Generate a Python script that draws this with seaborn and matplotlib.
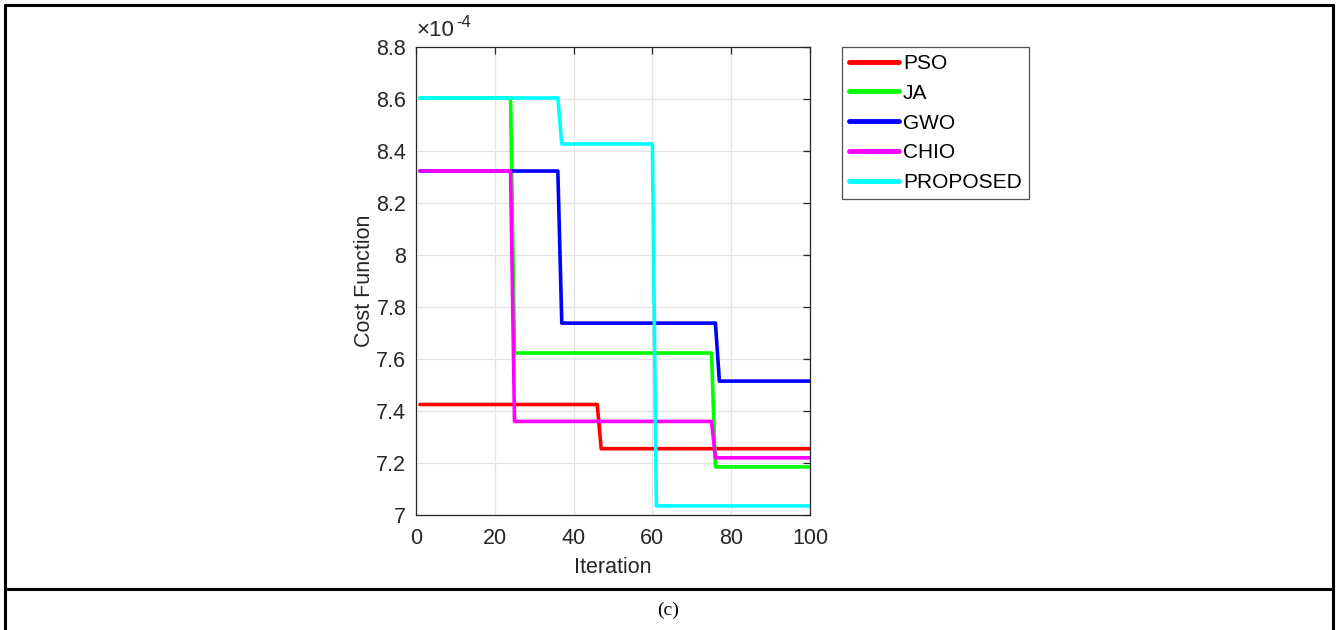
import numpy as np
import pandas as pd
import matplotlib
matplotlib.use("Agg")
import matplotlib.pyplot as plt
from matplotlib.lines import Line2D
import seaborn as sns

# Convergence curves (cost in units of 1e-4): each level holds up to and including its end iteration
iterations = np.arange(1, 101)
algorithms = ["PSO", "JA", "GWO", "CHIO", "PROPOSED"]
pso_levels, pso_ends = [7.425, 7.255], [46, 100]
ja_levels, ja_ends = [8.604, 7.623, 7.185], [24, 75, 100]
gwo_levels, gwo_ends = [8.323, 7.738, 7.515], [36, 76, 100]
chio_levels, chio_ends = [8.323, 7.36, 7.22], [24, 75, 100]
proposed_levels, proposed_ends = [8.604, 8.427, 7.035], [36, 60, 100]
colors = ["#FF0000", "#00FF00", "#0000FF", "#FF00FF", "#00FFFF"]
x_ticks = [0, 20, 40, 60, 80, 100]
y_ticks = [7.0, 7.2, 7.4, 7.6, 7.8, 8.0, 8.2, 8.4, 8.6, 8.8]


def expand(levels, ends):
    counts = np.diff([0] + ends)
    return np.repeat(levels, counts)


series = {
    "PSO": expand(pso_levels, pso_ends),
    "JA": expand(ja_levels, ja_ends),
    "GWO": expand(gwo_levels, gwo_ends),
    "CHIO": expand(chio_levels, chio_ends),
    "PROPOSED": expand(proposed_levels, proposed_ends),
}
df = pd.concat(
    [pd.DataFrame({"Iteration": iterations, "Cost": v, "Algorithm": k}) for k, v in series.items()],
    ignore_index=True,
)

sns.set_style("white")
plt.rcParams["font.family"] = ["Liberation Sans", "DejaVu Sans"]

dark = "#262626"
fig = plt.figure(figsize=(13.36, 6.30), dpi=100)
W, H = 1336, 630
ax = fig.add_axes([416 / W, 1 - 515 / H, (810 - 416) / W, (515 - 47) / H])

sns.lineplot(
    data=df, x="Iteration", y="Cost", hue="Algorithm", hue_order=algorithms,
    palette=colors, linewidth=2.6, ax=ax, legend=True,
)

ax.set_xlim(0, 100)
ax.set_ylim(7.0, 8.8)
ax.set_xticks(x_ticks)
ax.set_yticks(y_ticks)
ax.set_yticklabels([f"{t:g}" for t in y_ticks])
ax.grid(True, color="#E3E3E3", linewidth=0.9)
ax.set_axisbelow(True)
for s in ax.spines.values():
    s.set_color(dark)
    s.set_linewidth(0.9)
    s.set_visible(True)
ax.tick_params(direction="in", length=5, width=0.9, colors=dark, labelsize=15.5,
               top=True, right=True, labeltop=False, labelright=False)
ax.tick_params(axis="x", pad=9)
ax.tick_params(axis="y", pad=7)
ax.set_xlabel("Iteration", fontsize=15.5, color=dark, labelpad=6)
ax.set_ylabel("Cost Function", fontsize=15.5, color=dark, labelpad=1)

# Exponent multiplier above the y axis
ax.text(0.0, 1.012, "×10", transform=ax.transAxes, fontsize=16,
        color=dark, ha="left", va="bottom")
ax.text(0.102, 1.036, "-4", transform=ax.transAxes, fontsize=12,
        color=dark, ha="left", va="bottom")

leg = ax.legend(loc="upper left", bbox_to_anchor=((842 - 416) / (810 - 416), 1.0),
                frameon=True, fancybox=False, fontsize=15, handlelength=2.4,
                handletextpad=0.2, borderpad=0.33, labelspacing=0.52, borderaxespad=0)
leg.get_frame().set_edgecolor(dark)
leg.get_frame().set_linewidth(0.9)
for h in leg.get_lines():
    h.set_linewidth(3.5)
for t in leg.get_texts():
    t.set_color("black")

# Surrounding table frame with caption row
lw = 2.2
fig.add_artist(Line2D([5 / W, 1333 / W], [1 - 5 / H, 1 - 5 / H], color="black", lw=lw))
fig.add_artist(Line2D([5 / W, 5 / W], [1 - 5 / H, 0], color="black", lw=lw))
fig.add_artist(Line2D([1333 / W, 1333 / W], [1 - 5 / H, 0], color="black", lw=lw))
fig.add_artist(Line2D([5 / W, 1333 / W], [1 - 589 / H, 1 - 589 / H], color="black", lw=lw))
fig.text(668 / W, 1 - 610 / H, "(c)", family="Liberation Serif", fontsize=14,
         ha="center", va="center", color="black")

fig.savefig("out.png", dpi=100, facecolor="white")
